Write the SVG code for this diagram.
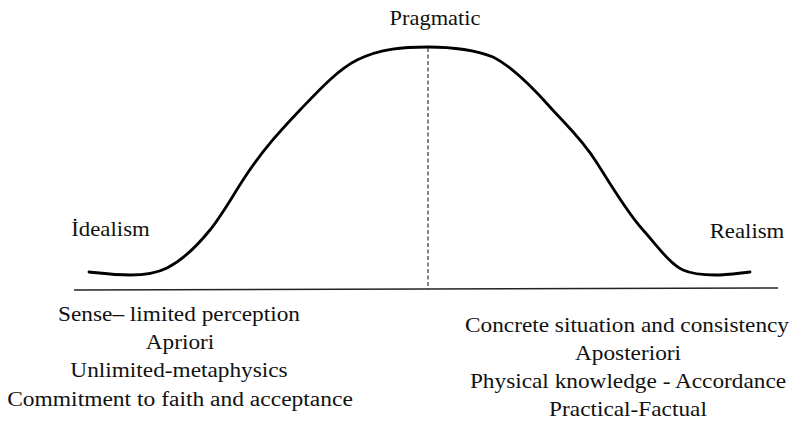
<svg xmlns="http://www.w3.org/2000/svg" width="795" height="424" viewBox="0 0 795 424">
<rect width="795" height="424" fill="#fff"/>
<g id="axis">
<line x1="74" y1="290" x2="778" y2="288" stroke="#222" stroke-width="1.6"/>
<line x1="428" y1="48" x2="428" y2="289" stroke="#222" stroke-width="1.1" stroke-dasharray="4,2.5"/>
</g>
<g id="curve">
<path d="M89,272 C102.7,273.4 116.3,275 130,275 C142.3,275 154.7,274.2 167,268 C181.3,260.8 195.7,247.6 210,230 C221,216.5 232,197 243,180 C262,150.5 281,130 300,110 C319,90 338,69.5 357,60 C380.7,48.2 404.3,47 428,47 C449.7,47 471.3,48.5 493,57 C512,66.5 531,85.7 550,107 C565.7,124.6 581.3,138 597,163 C612.3,187.5 627.7,213.2 643,230 C656.3,244.6 669.7,264 683,270 C693.7,274.8 704.3,275 715,275 C726.7,275 738.3,273.2 750,272" fill="none" stroke="#000" stroke-width="2.8" stroke-linecap="round" stroke-linejoin="round"/>
</g>
<g font-family="Liberation Serif" font-size="20" fill="#111" text-anchor="middle">
<g id="pragmatic" transform="translate(435,25) scale(1.12,1)"><text x="0" y="0">Pragmatic</text></g>
<g id="idealism" transform="translate(110.5,236) scale(1.14,1)"><text x="0" y="0">İdealism</text></g>
<g id="realism" transform="translate(747,238) scale(1.14,1)"><text x="0" y="0">Realism</text></g>
<g id="idealism-traits">
<text transform="translate(179,321) scale(1.165,1)">Sense– limited perception</text>
<text transform="translate(180,349) scale(1.165,1)">Apriori</text>
<text transform="translate(179,377) scale(1.165,1)">Unlimited-metaphysics</text>
<text transform="translate(180,406) scale(1.175,1)">Commitment to faith and acceptance</text>
</g>
<g id="realism-traits">
<text transform="translate(627,332) scale(1.165,1)">Concrete situation and consistency</text>
<text transform="translate(628,360) scale(1.165,1)">Aposteriori</text>
<text transform="translate(628,388) scale(1.165,1)">Physical knowledge - Accordance</text>
<text transform="translate(628,416) scale(1.165,1)">Practical-Factual</text>
</g>
</g>
</svg>
